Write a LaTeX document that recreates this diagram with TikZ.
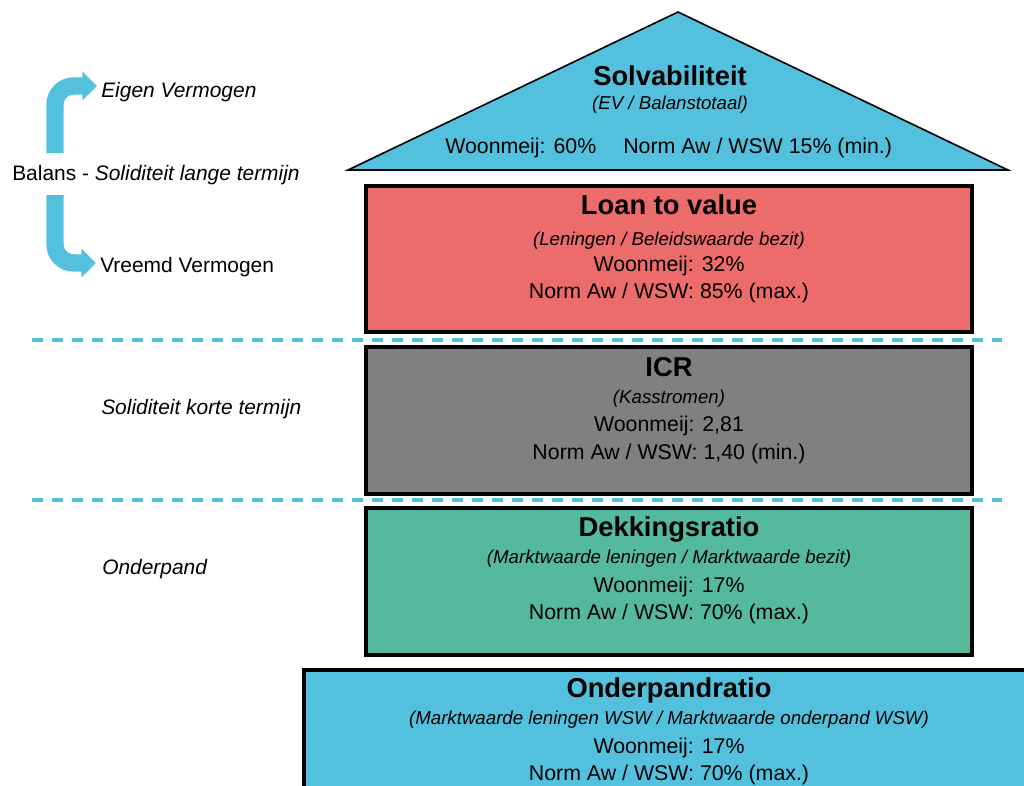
\documentclass[tikz,border=0pt]{standalone}
\usepackage{fontspec}
\setmainfont{Liberation Sans}
\usetikzlibrary{arrows.meta}
\definecolor{cblue}{HTML}{53C1DE}
\definecolor{cred}{HTML}{EC6B6B}
\definecolor{cgray}{HTML}{808080}
\definecolor{cgreen}{HTML}{55B99B}
\tikzset{
  boxframe/.style={draw=black, line width=2.6pt},
  roof/.style={draw=black, line width=1.2pt, fill=cblue, line join=miter},
  ttl/.style={font=\fontsize{20.5pt}{24pt}\selectfont\bfseries, inner sep=0pt, text height=14.8pt, text depth=0pt},
  sub/.style={font=\fontsize{14pt}{17pt}\selectfont\itshape, inner sep=0pt, text height=10.1pt, text depth=0pt},
  val/.style={font=\fontsize{16pt}{19pt}\selectfont, inner sep=0pt, text height=11.5pt, text depth=0pt},
  lefttxt/.style={font=\fontsize{15.7pt}{18pt}\selectfont, anchor=west, inner xsep=3pt, inner ysep=0pt, text height=11.2pt, text depth=0pt},
  divider/.style={draw=cblue, line width=2.6pt, dash pattern=on 8.25pt off 6.75pt},
  bentarrow/.style={draw=cblue, line width=13pt, rounded corners=14pt, -{Triangle[length=11pt,width=21pt]}},
}
\begin{document}
\begin{tikzpicture}[x=0.75pt,y=-0.75pt]
\useasboundingbox (0,0) rectangle (1024,785);
\clip (0,0) rectangle (1024,785);

% dashed dividers
\coordinate (d1a) at (32,340);
\coordinate (d1b) at (1002,340);
\coordinate (d2a) at (32,500);
\coordinate (d2b) at (1002,500);
\draw[divider] (d1a) -- (d1b);
\draw[divider] (d2a) -- (d2b);

% roof
\draw[roof] (348,170) -- (678,12) -- (1008,170) -- cycle;
\node[ttl] (solv) at (670,76) {Solvabiliteit};
\node[sub] (solvsub) at (670,103) {(EV / Balanstotaal)};
\node[val, anchor=west] (solvw) at (445,146) {Woonmeij: 60\%};
\node[val, anchor=west] (solvn) at (623,146) {Norm Aw / WSW 15\% (min.)};

% loan to value
\draw[boxframe, fill=cred] (366,186) rectangle (972,332);
\node[ttl] (ltv) at (669,205) {Loan to value};
\node[sub] (ltvsub) at (669,239) {(Leningen / Beleidswaarde bezit)};
\node[val] (ltvw) at (669,264) {Woonmeij: 32\%};
\node[val] (ltvn) at (669,291) {Norm Aw / WSW: 85\% (max.)};

% ICR
\draw[boxframe, fill=cgray] (366,347) rectangle (972,494);
\node[ttl] (icr) at (669,367) {ICR};
\node[sub] (icrsub) at (669,397) {(Kasstromen)};
\node[val] (icrw) at (669,424) {Woonmeij: 2,81};
\node[val] (icrn) at (669,452) {Norm Aw / WSW: 1,40 (min.)};

% Dekkingsratio
\draw[boxframe, fill=cgreen] (366,508) rectangle (972,655);
\node[ttl] (dek) at (669,527) {Dekkingsratio};
\node[sub] (deksub) at (669,557) {(Marktwaarde leningen / Marktwaarde bezit)};
\node[val] (dekw) at (669,585) {Woonmeij: 17\%};
\node[val] (dekn) at (669,612) {Norm Aw / WSW: 70\% (max.)};

% Onderpandratio
\draw[boxframe, fill=cblue] (304,670) rectangle (1040,800);
\node[ttl] (ond) at (669,688) {Onderpandratio};
\node[sub] (ondsub) at (669,718) {(Marktwaarde leningen WSW / Marktwaarde onderpand WSW)};
\node[val] (ondw) at (669,746) {Woonmeij: 17\%};
\node[val] (ondn) at (669,773) {Norm Aw / WSW: 70\% (max.)};

% left labels
\node[lefttxt] (eigen) at (97,90) {\itshape Eigen Vermogen};
\node[lefttxt] (balans) at (8,173) {Balans - \textit{Soliditeit lange termijn}};
\node[lefttxt] (vreemd) at (96,265) {Vreemd Vermogen};
\node[lefttxt] (korte) at (97,407) {\itshape Soliditeit korte termijn};
\node[lefttxt] (onderpand) at (98,567) {\itshape Onderpand};

% bent arrows
\coordinate (ua) at (55,153);
\coordinate (da) at (55,195);
\draw[bentarrow] (ua) |- ([yshift=3pt]eigen.west);
\draw[bentarrow] (da) |- ([yshift=1.5pt]vreemd.west);
\end{tikzpicture}
\end{document}
